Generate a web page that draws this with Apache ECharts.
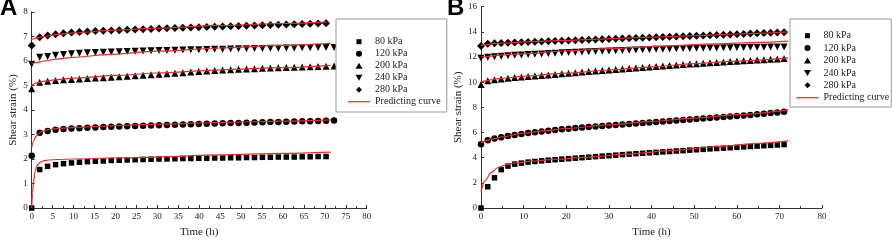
<!DOCTYPE html>
<html>
<head>
<meta charset="utf-8">
<script src="https://cdn.jsdelivr.net/npm/echarts@6/dist/echarts.min.js"></script>
<style>
  html, body { margin: 0; padding: 0; background: #fff; }
  #main { width: 892px; height: 243px; }
</style>
</head>
<body>
<div id="main"></div>
<script>
// panel A: measured times (h) and shear strain (%)
const timeA = [0, 1.9, 3.8, 5.7, 7.6, 9.5, 11.4, 13.3, 15.2, 17.1, 19, 20.9, 22.8, 24.7, 26.6, 28.5, 30.4, 32.3, 34.2, 36.1,
  38, 39.9, 41.8, 43.7, 45.6, 47.5, 49.4, 51.3, 53.2, 55.1, 57, 58.9, 60.8, 62.7, 64.6, 66.5, 68.4, 70.3, 72.2];
const a80 = [0, 1.57, 1.70, 1.77, 1.81, 1.84, 1.87, 1.89, 1.91, 1.92, 1.94, 1.95, 1.96, 1.97, 1.98, 1.99, 2.00, 2.00, 2.01, 2.02,
  2.02, 2.03, 2.03, 2.04, 2.04, 2.05, 2.05, 2.06, 2.06, 2.07, 2.07, 2.08, 2.08, 2.08, 2.09, 2.09, 2.10, 2.10];
const a120 = [2.13, 3.07, 3.14, 3.19, 3.22, 3.24, 3.26, 3.28, 3.29, 3.31, 3.32, 3.33, 3.34, 3.35, 3.36, 3.37, 3.38, 3.39, 3.40, 3.41,
  3.42, 3.43, 3.44, 3.45, 3.46, 3.47, 3.47, 3.48, 3.49, 3.50, 3.51, 3.51, 3.52, 3.53, 3.54, 3.54, 3.55, 3.56, 3.57];
const a200 = [4.87, 5.13, 5.17, 5.20, 5.23, 5.25, 5.27, 5.29, 5.31, 5.32, 5.34, 5.36, 5.38, 5.40, 5.42, 5.44, 5.46, 5.48, 5.50, 5.52,
  5.55, 5.57, 5.59, 5.61, 5.63, 5.64, 5.66, 5.67, 5.68, 5.70, 5.71, 5.72, 5.73, 5.75, 5.76, 5.77, 5.78, 5.79, 5.80];
const a240 = [5.87, 6.15, 6.18, 6.23, 6.27, 6.30, 6.32, 6.34, 6.35, 6.36, 6.37, 6.38, 6.39, 6.40, 6.41, 6.42, 6.43, 6.43, 6.44, 6.45,
  6.46, 6.46, 6.47, 6.48, 6.48, 6.49, 6.50, 6.50, 6.51, 6.51, 6.52, 6.52, 6.53, 6.53, 6.54, 6.54, 6.55, 6.55, 6.55];
const a280 = [6.63, 6.97, 7.04, 7.09, 7.13, 7.16, 7.18, 7.20, 7.22, 7.23, 7.25, 7.26, 7.28, 7.29, 7.30, 7.31, 7.33, 7.34, 7.35, 7.36,
  7.37, 7.38, 7.39, 7.40, 7.41, 7.42, 7.43, 7.44, 7.45, 7.46, 7.47, 7.48, 7.49, 7.50, 7.51, 7.52, 7.53, 7.54];

// panel A: predicting curves [t, strain]
const fitA80 = [[0, 0], [0.2, 0.6], [0.4, 1.0], [0.8, 1.5], [1.2, 1.7], [1.6, 1.8], [2.2, 1.88], [3, 1.93], [4, 1.96], [6, 1.98],
  [10, 2.0], [20, 2.04], [30, 2.08], [45, 2.17], [60, 2.23], [71.4, 2.28]];
const fitA120 = [[0, 2.47], [0.5, 2.75], [1, 2.92], [1.5, 3.02], [2.5, 3.13], [4, 3.2], [7, 3.26], [12, 3.3], [20, 3.36],
  [30, 3.42], [45, 3.49], [60, 3.55], [71.4, 3.6]];
const fitA200 = [[0, 5.0], [1, 5.1], [3, 5.18], [6, 5.24], [10, 5.3], [20, 5.41], [30, 5.51], [45, 5.64], [60, 5.73], [71.4, 5.82]];
const fitA240 = [[0, 5.87], [1, 5.93], [3, 6.0], [6, 6.08], [10, 6.15], [18, 6.26], [30, 6.4], [45, 6.53], [60, 6.64], [71.4, 6.72]];
const fitA280 = [[0, 6.87], [1, 6.93], [3, 7.0], [6, 7.08], [10, 7.15], [20, 7.26], [30, 7.34], [45, 7.45], [60, 7.53], [70.5, 7.6]];

// panel B
const timeB = [0, 1.58, 3.16, 4.74, 6.32, 7.9, 9.48, 11.06, 12.64, 14.22, 15.8, 17.38, 18.96, 20.54, 22.12, 23.7, 25.28, 26.86,
  28.44, 30.02, 31.6, 33.18, 34.76, 36.34, 37.92, 39.5, 41.08, 42.66, 44.24, 45.82, 47.4, 48.98, 50.56, 52.14, 53.72, 55.3,
  56.88, 58.46, 60.04, 61.62, 63.2, 64.78, 66.36, 67.94, 69.52, 71.1];
const b80 = [0, 1.69, 2.40, 3.05, 3.33, 3.49, 3.57, 3.65, 3.70, 3.75, 3.80, 3.84, 3.88, 3.92, 3.96, 4.00, 4.04, 4.08, 4.12, 4.16,
  4.20, 4.24, 4.28, 4.32, 4.35, 4.39, 4.42, 4.46, 4.49, 4.53, 4.56, 4.60, 4.63, 4.66, 4.70, 4.73, 4.76, 4.79, 4.82, 4.86,
  4.89, 4.92, 4.95, 4.98, 5.01, 5.04];
const b120 = [5.07, 5.39, 5.52, 5.62, 5.72, 5.81, 5.89, 5.96, 6.03, 6.09, 6.15, 6.20, 6.25, 6.30, 6.35, 6.40, 6.44, 6.48, 6.52, 6.56,
  6.60, 6.64, 6.68, 6.72, 6.76, 6.80, 6.84, 6.88, 6.92, 6.96, 7.00, 7.04, 7.08, 7.12, 7.16, 7.20, 7.24, 7.28, 7.32, 7.36,
  7.40, 7.45, 7.50, 7.55, 7.60, 7.65];
const b200 = [9.81, 10.12, 10.20, 10.26, 10.32, 10.37, 10.42, 10.46, 10.50, 10.54, 10.58, 10.62, 10.67, 10.72, 10.76, 10.80,
  10.85, 10.89, 10.93, 10.97, 11.01, 11.05, 11.09, 11.13, 11.17, 11.21, 11.25, 11.29, 11.33, 11.37, 11.40, 11.44, 11.47,
  11.51, 11.54, 11.57, 11.61, 11.64, 11.67, 11.70, 11.73, 11.76, 11.79, 11.82, 11.85, 11.88];
const b240 = [11.90, 11.98, 12.03, 12.07, 12.11, 12.14, 12.17, 12.20, 12.23, 12.25, 12.28, 12.30, 12.33, 12.35, 12.37, 12.39,
  12.41, 12.43, 12.45, 12.47, 12.49, 12.51, 12.53, 12.55, 12.57, 12.59, 12.61, 12.62, 12.64, 12.65, 12.67, 12.68, 12.69,
  12.70, 12.71, 12.72, 12.73, 12.74, 12.75, 12.76, 12.77, 12.78, 12.78, 12.79, 12.80, 12.80];
const b280 = [12.88, 13.05, 13.09, 13.12, 13.14, 13.16, 13.18, 13.20, 13.22, 13.24, 13.26, 13.28, 13.30, 13.32, 13.34, 13.36,
  13.38, 13.40, 13.42, 13.44, 13.46, 13.48, 13.50, 13.52, 13.54, 13.56, 13.58, 13.60, 13.62, 13.64, 13.66, 13.68, 13.70,
  13.72, 13.74, 13.76, 13.78, 13.80, 13.82, 13.84, 13.86, 13.88, 13.90, 13.92, 13.94, 13.96];

const fitB80 = [[0, 1.3], [1, 2.2], [2.5, 2.85], [4, 3.22], [6, 3.45], [8, 3.58], [12, 3.72], [18, 3.88], [24, 4.02], [35, 4.3],
  [45, 4.58], [55, 4.87], [65, 5.14], [72.1, 5.33]];
const fitB120 = [[0, 5.18], [2, 5.42], [5, 5.66], [10, 5.95], [15, 6.15], [20, 6.32], [30, 6.6], [40, 6.88], [50, 7.15], [60, 7.42], [72.1, 7.8]];
const fitB200 = [[0, 10.02], [5, 10.3], [10, 10.48], [20, 10.72], [30, 10.97], [40, 11.22], [50, 11.47], [60, 11.68], [72.1, 11.93]];
const fitB240 = [[0, 12.0], [10, 12.25], [20, 12.48], [30, 12.66], [43, 12.87], [55, 13.05], [65, 13.17], [72.1, 13.27]];
const fitB280 = [[0, 12.92], [5, 13.1], [10, 13.2], [20, 13.32], [30, 13.45], [40, 13.58], [50, 13.7], [60, 13.83], [72.1, 14.0]];

const loadNames = ["80 kPa", "120 kPa", "200 kPa", "240 kPa", "280 kPa"];
const fitName = "Predicting curve";

const serif = "Liberation Serif";
const red = "#f02a2a";
const ink = "#000";

const markers = [
  { symbol: "rect", size: 5.5, rotate: 0 },
  { symbol: "circle", size: 6.5, rotate: 0 },
  { symbol: "triangle", size: 7, rotate: 0 },
  { symbol: "triangle", size: 7, rotate: 180 },
  { symbol: "diamond", size: 8, rotate: 0 }
];

// legend icons: a 22x6 frame (two empty corner points) so nothing gets stretched
const frame = "M0,0L0,0M22,6L22,6";
const legendIcons = [
  "path://" + frame + "M8.5,0.5H13.5V5.5H8.5Z",
  "path://" + frame + "M8,3A3,3 0 1,1 14,3A3,3 0 1,1 8,3Z",
  "path://" + frame + "M7.5,6L11,0L14.5,6Z",
  "path://" + frame + "M7.5,0L14.5,0L11,6Z",
  "path://" + frame + "M11,0L14,3L11,6L8,3Z"
];
const lineIcon = "path://" + frame + "M0,2.4H22V3.6H0Z";

function pairs(times, vals) {
  return vals.map((v, i) => [times[i], v]);
}

function scatterSeries(axisIdx, times, lists) {
  return lists.map((vals, i) => ({
    name: loadNames[i],
    type: "scatter",
    xAxisIndex: axisIdx,
    yAxisIndex: axisIdx,
    symbol: markers[i].symbol,
    symbolSize: markers[i].size,
    symbolRotate: markers[i].rotate,
    itemStyle: { color: ink, opacity: 1 },
    z: 3,
    data: pairs(times, vals)
  }));
}

function fitSeries(axisIdx, curves) {
  return curves.map(c => ({
    name: fitName,
    type: "line",
    xAxisIndex: axisIdx,
    yAxisIndex: axisIdx,
    symbol: "none",
    smooth: 0.3,
    smoothMonotone: "x",
    lineStyle: { color: red, width: 1.2 },
    itemStyle: { color: red },
    z: 4,
    data: c
  }));
}

function xAxisFor(grid, interval) {
  return {
    type: "value", gridIndex: grid, min: 0, max: 80, interval: interval,
    name: "Time (h)", nameLocation: "middle", nameGap: 19,
    nameTextStyle: { fontFamily: serif, fontSize: 11, color: "#222" },
    axisLine: { lineStyle: { color: "#333", width: 1 } },
    axisTick: { inside: true, length: 3, lineStyle: { color: "#333" } },
    minorTick: { show: true, splitNumber: 2, length: 2, lineStyle: { color: "#333" } },
    axisLabel: { fontFamily: serif, fontSize: 9, color: "#222", margin: 4 },
    splitLine: { show: false }
  };
}

function yAxisFor(grid, max, interval, gap) {
  return {
    type: "value", gridIndex: grid, min: 0, max: max, interval: interval,
    name: "Shear strain (%)", nameLocation: "middle", nameGap: gap, nameRotate: 90,
    nameTextStyle: { fontFamily: serif, fontSize: 11, color: "#222" },
    axisLine: { show: true, lineStyle: { color: "#333", width: 1 } },
    axisTick: { show: true, inside: true, length: 3, lineStyle: { color: "#333" } },
    axisLabel: { fontFamily: serif, fontSize: 9, color: "#222", margin: 4 },
    splitLine: { show: false }
  };
}

function legendFor(left, top, padding, lineHeight) {
  const items = loadNames.map((n, i) => ({ name: n, icon: legendIcons[i] }));
  items.push({ name: fitName, icon: lineIcon });
  return {
    left: left, top: top, orient: "vertical",
    data: items,
    itemWidth: 22, itemHeight: 6, itemGap: 0,
    symbolRotate: 0,
    padding: padding,
    backgroundColor: "#fff",
    borderColor: "#999", borderWidth: 1,
    selectedMode: false,
    textStyle: { fontFamily: serif, fontSize: 10, color: "#222", lineHeight: lineHeight }
  };
}

const chart = echarts.init(document.getElementById("main"), null, { renderer: "canvas" });
chart.setOption({
  animation: false,
  backgroundColor: "#fff",
  title: [
    { text: "A", left: 0, top: -4, padding: 0, textStyle: { fontFamily: "Liberation Sans", fontWeight: "bold", fontSize: 24, color: "#000" } },
    { text: "B", left: 447, top: -4, padding: 0, textStyle: { fontFamily: "Liberation Sans", fontWeight: "bold", fontSize: 24, color: "#000" } }
  ],
  grid: [
    { left: 31.7, top: 12, width: 335, height: 199.7 },
    { left: 481, top: 6.7, width: 341, height: 205 }
  ],
  xAxis: [xAxisFor(0, 5), xAxisFor(1, 10)],
  yAxis: [yAxisFor(0, 8, 1, 13), yAxisFor(1, 16, 2, 15)],
  legend: [
    legendFor(336, 19, [16.7, 6, 4.3, 12], 12),
    legendFor(790, 19, [10.5, 2, 3.1, 6.5], 12.4)
  ],
  series: [].concat(
    scatterSeries(0, timeA, [a80, a120, a200, a240, a280]),
    fitSeries(0, [fitA80, fitA120, fitA200, fitA240, fitA280]),
    scatterSeries(1, timeB, [b80, b120, b200, b240, b280]),
    fitSeries(1, [fitB80, fitB120, fitB200, fitB240, fitB280])
  )
});
</script>
</body>
</html>
